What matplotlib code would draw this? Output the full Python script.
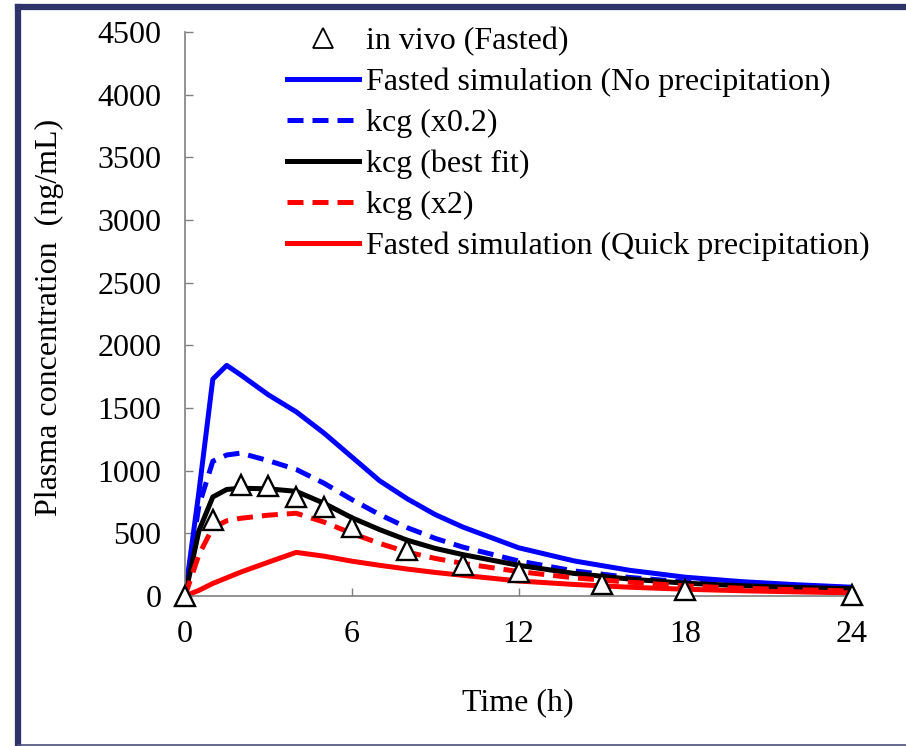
import matplotlib.pyplot as plt
from matplotlib.lines import Line2D

plt.rcParams['font.family'] = ['Liberation Serif', 'DejaVu Serif']
plt.rcParams['mathtext.fontset'] = 'stix'

# observed plasma profile (fasted)
time_obs = [0, 1, 2, 3, 4, 5, 6, 8, 10, 12, 15, 18, 24]
conc_obs = [0, 606, 886, 880, 792, 712, 553, 367, 247, 194, 93, 48, 10]

# simulated profiles
time_sim = [0, 0.5, 1, 1.5, 2, 3, 4, 5, 6, 7, 8, 9, 10, 12, 14, 16, 18, 20, 22, 24]
no_precip = [0, 830, 1730, 1840, 1765, 1605, 1470, 1300, 1110, 920, 775, 650, 550,
             385, 280, 205, 150, 115, 90, 70]
kcg_x02 = [0, 720, 1075, 1125, 1140, 1080, 1010, 900, 770, 650, 545, 460, 390,
           280, 200, 148, 112, 88, 72, 60]
kcg_best = [0, 520, 790, 850, 860, 855, 835, 740, 625, 530, 445, 380, 330,
            245, 180, 135, 102, 82, 68, 58]
kcg_x2 = [0, 330, 545, 600, 620, 645, 660, 590, 500, 420, 350, 300, 260,
          195, 145, 110, 80, 62, 50, 40]
quick_precip = [0, 45, 100, 145, 190, 270, 348, 318, 278, 245, 215, 188, 165,
                120, 92, 70, 54, 42, 33, 25]

xticks = [0, 6, 12, 18, 24]
yticks = list(range(0, 4501, 500))

fig = plt.figure(figsize=(9.06, 7.46), dpi=100)
ax = fig.add_axes([185 / 906, 150 / 746, 667 / 906, 564 / 746])

lw = 3.6
ax.plot(time_sim, no_precip, color='#0000FF', lw=lw,
        label='Fasted simulation (No precipitation)')
ax.plot(time_sim, kcg_x02, color='#0000FF', lw=lw, ls=(0, (3.2, 1.8)),
        label='kcg (x0.2)')
ax.plot(time_sim, kcg_best, color='black', lw=lw, label='kcg (best fit)')
ax.plot(time_sim, kcg_x2, color='#FF0000', lw=lw, ls=(0, (3.2, 1.8)),
        label='kcg (x2)')
ax.plot(time_sim, quick_precip, color='#FF0000', lw=lw,
        label='Fasted simulation (Quick precipitation)')
ax.plot(time_obs, conc_obs, ls='none', marker='^', ms=14, mfc='white',
        mec='black', mew=1.7, zorder=5, clip_on=False, label='in vivo (Fasted)')

ax.set_xlim(0, 24)
ax.set_ylim(0, 4500)
ax.set_xticks(xticks)
ax.set_yticks(yticks)
for side in ['top', 'right']:
    ax.spines[side].set_visible(False)
for side in ['left', 'bottom']:
    ax.spines[side].set_color('#808080')
    ax.spines[side].set_linewidth(1.2)
ax.tick_params(direction='in', length=6, width=1.0, color='#808080',
               labelsize=23, pad=17)

# legend: observed first, then simulations
handles, labels = ax.get_legend_handles_labels()
order = [5, 0, 1, 2, 3, 4]
leg = ax.legend([handles[i] for i in order], [labels[i] for i in order],
                loc='upper left', bbox_to_anchor=(287 / 906, 1 - 27 / 746),
                bbox_transform=fig.transFigure, frameon=False, fontsize=23,
                handlelength=2.25, handletextpad=0.22, labelspacing=0.36,
                borderpad=0, borderaxespad=0)
leg.legend_handles[0].set_markeredgewidth(1.3)

fig.text(49 / 906, 1 - 317 / 746, 'Plasma concentration  (ng/mL)',
         rotation=90, ha='center', va='center', fontsize=23)
fig.text(518 / 906, 1 - 703 / 746, 'Time (h)', ha='center', va='center',
         fontsize=23)

# outer frame
navy = '#2E3469'
fig.add_artist(Line2D([18 / 906, 18 / 906], [0, 1 - 7 / 746],
                      transform=fig.transFigure, color=navy, lw=4.5,
                      solid_capstyle='projecting'))
fig.add_artist(Line2D([18 / 906, 1], [1 - 7 / 746, 1 - 7 / 746],
                      transform=fig.transFigure, color=navy, lw=4.5,
                      solid_capstyle='projecting'))
fig.add_artist(Line2D([18 / 906, 1], [1.5 / 746, 1.5 / 746],
                      transform=fig.transFigure, color='#4A4F7A', lw=1.2))

fig.savefig('out.png', dpi=100)
